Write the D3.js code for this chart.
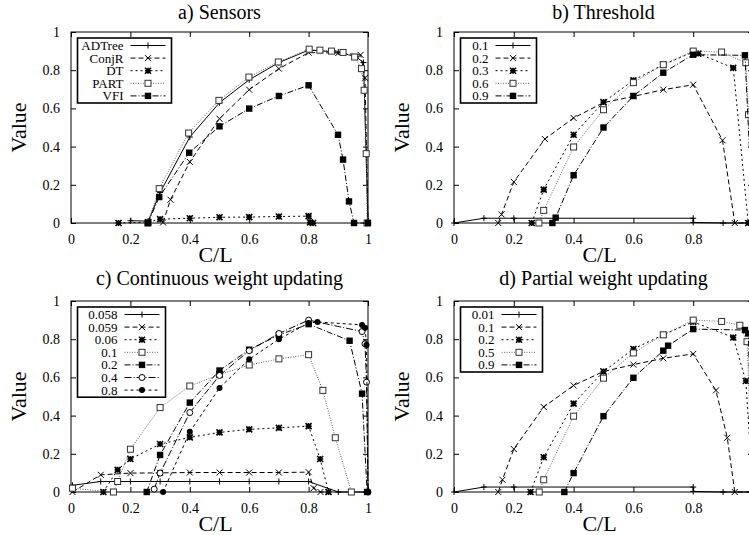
<!DOCTYPE html>
<html><head><meta charset="utf-8">
<script src="https://cdn.jsdelivr.net/npm/d3@7"></script>
<style>body{margin:0;background:#fff}svg{display:block}text{font-family:"Liberation Serif","Times New Roman",Times,serif;fill:#000}</style>
</head><body>
<svg id="chart" width="749" height="535"></svg>
<script>
// ---------- data ----------
const tickValues = [0, 0.2, 0.4, 0.6, 0.8, 1];
const tickLabels = ["0", "0.2", "0.4", "0.6", "0.8", "1"];
const xLabel = "C/L", yLabel = "Value";

const titles = ["a) Sensors", "b) Threshold", "c) Continuous weight updating", "d) Partial weight updating"];

// a) Sensors
const sensorsNames = ["ADTree", "ConjR", "DT", "PART", "VFI"];
const sensorsADTree = [[0.2,0.012],[0.26,0.01],[0.3,0.16],[0.4,0.45],[0.5,0.63],[0.6,0.75],[0.7,0.84],[0.8,0.905],[0.9,0.895],[0.96,0.87],[0.985,0.84],[1.0,0]];
const sensorsConjR = [[0.31,0.003],[0.335,0.122],[0.4,0.32],[0.5,0.546],[0.6,0.698],[0.7,0.808],[0.8,0.892],[0.9,0.89],[0.975,0.88],[0.99,0.76],[1.0,0]];
const sensorsDT = [[0.16,0],[0.26,0.005],[0.3,0.02],[0.4,0.025],[0.5,0.03],[0.6,0.031],[0.7,0.034],[0.8,0.036],[0.805,0.003],[0.815,0]];
const sensorsPART = [[0.259,0],[0.297,0.18],[0.396,0.471],[0.498,0.642],[0.599,0.764],[0.698,0.843],[0.802,0.91],[0.838,0.905],[0.877,0.9],[0.916,0.893],[0.955,0.869],[0.978,0.808],[0.987,0.695],[0.994,0.363],[0.997,0]];
const sensorsVFI = [[0.259,0],[0.297,0.136],[0.398,0.368],[0.5,0.506],[0.6,0.599],[0.7,0.665],[0.8,0.721],[0.899,0.462],[0.916,0.332],[0.936,0.113],[0.953,0],[1.0,0]];

// b) Threshold
const thresholdNames = ["0.1", "0.2", "0.3", "0.6", "0.9"];
const threshold01 = [[0,0],[0.1,0.025],[0.2,0.025],[0.8,0.025],[0.8,0.003],[0.9,0],[1.0,0]];
const threshold02 = [[0.148,0],[0.159,0.045],[0.2,0.215],[0.304,0.44],[0.4,0.55],[0.5,0.63],[0.6,0.663],[0.7,0.698],[0.8,0.724],[0.898,0.433],[0.939,0],[1.0,0]];
const threshold03 = [[0.26,0],[0.3,0.175],[0.4,0.462],[0.5,0.633],[0.6,0.747],[0.7,0.829],[0.8,0.895],[0.817,0.887],[0.934,0.812],[0.984,0],[1.0,0]];
const threshold06 = [[0.284,0],[0.3,0.066],[0.4,0.398],[0.5,0.593],[0.6,0.735],[0.7,0.829],[0.8,0.9],[0.895,0.895],[0.976,0.839],[0.985,0.567],[1.0,0]];
const threshold09 = [[0.329,0],[0.34,0.028],[0.4,0.25],[0.5,0.5],[0.6,0.665],[0.7,0.787],[0.8,0.881],[0.973,0.878],[1.0,0]];

// c) Continuous weight updating
const continuousNames = ["0.058", "0.059", "0.06", "0.1", "0.2", "0.4", "0.8"];
const cont0058 = [[0.005,0.035],[0.1,0.055],[0.2,0.055],[0.3,0.055],[0.4,0.055],[0.5,0.055],[0.6,0.055],[0.7,0.055],[0.8,0.055],[0.9,0],[1.0,0]];
const cont0059 = [[0.005,0],[0.1,0.09],[0.2,0.099],[0.3,0.1],[0.4,0.102],[0.5,0.102],[0.6,0.102],[0.7,0.102],[0.8,0.104],[0.817,0.02],[0.84,0],[0.867,0]];
const cont006 = [[0.109,0],[0.157,0.116],[0.2,0.173],[0.3,0.251],[0.4,0.286],[0.5,0.312],[0.6,0.328],[0.7,0.336],[0.8,0.345],[0.839,0.173],[0.867,0]];
const cont01 = [[0.005,0.02],[0.143,0],[0.157,0.055],[0.2,0.224],[0.3,0.442],[0.4,0.555],[0.5,0.615],[0.6,0.665],[0.7,0.697],[0.8,0.719],[0.848,0.532],[0.89,0.284],[0.944,0]];
const cont02 = [[0.255,0],[0.3,0.194],[0.4,0.468],[0.5,0.636],[0.6,0.745],[0.7,0.822],[0.8,0.879],[0.938,0.792],[0.98,0.515],[0.997,0]];
const cont04 = [[0.28,0.015],[0.3,0.099],[0.4,0.416],[0.5,0.61],[0.6,0.74],[0.7,0.83],[0.8,0.9],[0.98,0.84],[0.99,0.776],[0.995,0.575],[1.0,0]];
const cont08 = [[0.31,0],[0.4,0.315],[0.5,0.545],[0.6,0.695],[0.7,0.8],[0.8,0.885],[0.83,0.89],[0.98,0.875],[0.99,0.86],[0.995,0.77],[1.0,0]];

// d) Partial weight updating
const partialNames = ["0.01", "0.1", "0.2", "0.5", "0.9"];
const partial001 = [[0,0],[0.1,0.026],[0.2,0.026],[0.8,0.026],[0.8,0.003],[0.9,0],[1.0,0]];
const partial01 = [[0.148,0],[0.162,0.064],[0.2,0.225],[0.3,0.445],[0.4,0.558],[0.5,0.631],[0.6,0.667],[0.7,0.7],[0.8,0.723],[0.876,0.532],[0.914,0.284],[0.939,0],[1.0,0]];
const partial02 = [[0.256,0],[0.3,0.182],[0.4,0.463],[0.5,0.631],[0.6,0.749],[0.7,0.823],[0.8,0.891],[0.934,0.809],[0.976,0.581],[1.0,0]];
const partial05 = [[0.285,0],[0.3,0.064],[0.4,0.397],[0.5,0.596],[0.6,0.728],[0.7,0.823],[0.8,0.9],[0.895,0.893],[0.956,0.873],[0.98,0.787],[1.0,0]];
const partial09 = [[0.369,0],[0.4,0.099],[0.5,0.397],[0.6,0.598],[0.7,0.74],[0.716,0.766],[0.8,0.853],[0.973,0.848],[0.984,0.83],[1.0,0]];

// ---------- styles per series index ----------
const styles = [
  {dash:null, color:"#000", marker:"plus"},
  {dash:"5,3", color:"#000", marker:"cross"},
  {dash:"2,3", color:"#000", marker:"star"},
  {dash:"1,1.5", color:"#666", marker:"square"},
  {dash:"6,2,1,2", color:"#000", marker:"fsquare"},
  {dash:"7,2,1,2", color:"#000", marker:"circle"},
  {dash:"3,3", color:"#000", marker:"fcircle"}
];

function markerPath(t){
  const s=3;
  if(t==="plus") return `M${-s},0H${s}M0,${-s}V${s}`;
  if(t==="cross") return `M${-s},${-s}L${s},${s}M${-s},${s}L${s},${-s}`;
  if(t==="star") return `M${-s},0H${s}M0,${-s}V${s}M${-s},${-s}L${s},${s}M${-s},${s}L${s},${-s}`;
  return null;
}
function drawMarker(g, t, color){
  if(t==="square") g.append("rect").attr("x",-3).attr("y",-3).attr("width",6).attr("height",6).attr("fill","#fff").attr("stroke","#333").attr("stroke-width",1);
  else if(t==="fsquare") g.append("rect").attr("x",-3.2).attr("y",-3.2).attr("width",6.4).attr("height",6.4).attr("fill","#000");
  else if(t==="circle") g.append("circle").attr("r",3).attr("fill","#fff").attr("stroke","#000").attr("stroke-width",1);
  else if(t==="fcircle") g.append("circle").attr("r",3).attr("fill","#000");
  else g.append("path").attr("d",markerPath(t)).attr("stroke",color).attr("stroke-width",t==="star"?1.6:1).attr("fill","none");
}

const panels = [
  {title:titles[0], names:sensorsNames, series:[sensorsADTree,sensorsConjR,sensorsDT,sensorsPART,sensorsVFI], left:71, right:368, top:32, bottom:223, titleGap:13},
  {title:titles[1], names:thresholdNames, series:[threshold01,threshold02,threshold03,threshold06,threshold09], left:454, right:753, top:32, bottom:223, titleGap:13},
  {title:titles[2], names:continuousNames, series:[cont0058,cont0059,cont006,cont01,cont02,cont04,cont08], left:71, right:368, top:301, bottom:492, titleGap:16},
  {title:titles[3], names:partialNames, series:[partial001,partial01,partial02,partial05,partial09], left:454, right:753, top:301, bottom:492, titleGap:16}
];

const FONT = '"Liberation Serif","Times New Roman",Times,serif';
const svg = d3.select("#chart");

panels.forEach((p, pi) => {
  const x = d3.scaleLinear().domain([0,1]).range([p.left, p.right]);
  const y = d3.scaleLinear().domain([0,1]).range([p.bottom, p.top]);
  const g = svg.append("g").attr("font-family", FONT);
  const clipId = "clip"+pi;
  svg.append("clipPath").attr("id",clipId).append("rect")
    .attr("x",p.left-4).attr("y",p.top-4).attr("width",p.right-p.left+8).attr("height",p.bottom-p.top+8);

  // axes (inner ticks, mirrored)
  const tk = 5;
  g.append("g").attr("transform",`translate(0,${p.bottom})`)
    .call(d3.axisBottom(x).tickValues(tickValues).tickFormat((d,i)=>tickLabels[i]).tickSizeInner(-tk).tickSizeOuter(0).tickPadding(10))
    .call(a=>{a.select(".domain").remove(); a.selectAll("text").attr("font-size",14).attr("dy","0.78em");});
  g.append("g").attr("transform",`translate(0,${p.top})`)
    .call(d3.axisTop(x).tickValues(tickValues).tickFormat("").tickSizeInner(-tk).tickSizeOuter(0))
    .call(a=>a.select(".domain").remove());
  g.append("g").attr("transform",`translate(${p.left},0)`)
    .call(d3.axisLeft(y).tickValues(tickValues).tickFormat((d,i)=>tickLabels[i]).tickSizeInner(-tk).tickSizeOuter(0).tickPadding(11))
    .call(a=>{a.select(".domain").remove(); a.selectAll("text").attr("font-size",14);});
  g.append("g").attr("transform",`translate(${p.right},0)`)
    .call(d3.axisRight(y).tickValues(tickValues).tickFormat("").tickSizeInner(-tk).tickSizeOuter(0))
    .call(a=>a.select(".domain").remove());
  g.selectAll("g").attr("font-family", FONT);
  g.selectAll(".tick line").attr("stroke","#000");
  g.selectAll(".tick text").attr("fill","#000");
  g.append("rect").attr("x",p.left).attr("y",p.top).attr("width",p.right-p.left).attr("height",p.bottom-p.top)
    .attr("fill","none").attr("stroke","#000").attr("stroke-width",1);

  // title & labels
  const cx = (p.left+p.right)/2;
  g.append("text").attr("x",cx).attr("y",p.top-p.titleGap).attr("text-anchor","middle").attr("font-size",20).text(p.title);
  g.append("text").attr("x",cx-4).attr("y",p.bottom+39).attr("text-anchor","middle").attr("font-size",22).text(xLabel);
  g.append("text").attr("transform",`translate(${p.left-45},${(p.top+p.bottom)/2}) rotate(-90)`).attr("text-anchor","middle").attr("font-size",22).text(yLabel);

  // series
  const line = d3.line().x(d=>x(d[0])).y(d=>y(d[1]));
  const sg = g.append("g").attr("clip-path",`url(#${clipId})`);
  p.series.forEach((data, si) => {
    const st = styles[si];
    sg.append("path").datum(data).attr("d",line).attr("fill","none").attr("stroke",st.color)
      .attr("stroke-width",1).attr("stroke-dasharray",st.dash);
    data.forEach(d => {
      const mg = sg.append("g").attr("transform",`translate(${x(d[0])},${y(d[1])})`);
      drawMarker(mg, st.marker, st.color);
    });
  });

  // legend
  const maxChars = d3.max(p.names, n=>n.length);
  const rowH = 12.6;
  const boxL = p.left + 6.5, boxT = p.top + 6;
  const boxW = 58 + 6*maxChars;
  const boxH = p.names.length*rowH + 2;
  const lg = g.append("g");
  lg.append("rect").attr("x",boxL).attr("y",boxT).attr("width",boxW).attr("height",boxH)
    .attr("fill","#fff").attr("stroke","#000").attr("stroke-width",1.6);
  const textR = boxL + boxW - 48;
  p.names.forEach((n, si) => {
    const st = styles[si];
    const ry = boxT + 7.5 + si*rowH;
    lg.append("text").attr("x",textR).attr("y",ry).attr("dy","0.35em").attr("text-anchor","end").attr("font-size",13).text(n);
    lg.append("line").attr("x1",textR+7).attr("x2",textR+42).attr("y1",ry).attr("y2",ry)
      .attr("stroke",st.color).attr("stroke-width",1).attr("stroke-dasharray",st.dash);
    const mg = lg.append("g").attr("transform",`translate(${textR+24.5},${ry})`);
    drawMarker(mg, st.marker, st.color);
  });
});
</script>
</body></html>
